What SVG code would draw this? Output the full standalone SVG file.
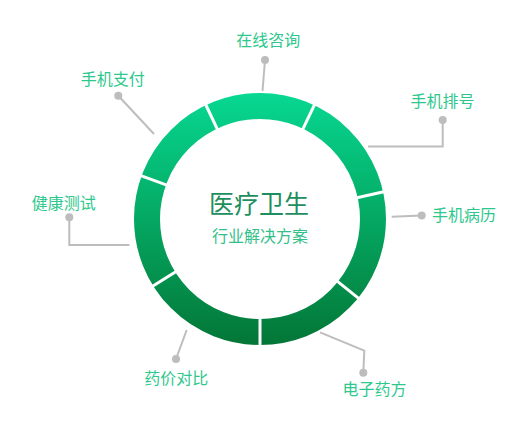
<svg xmlns="http://www.w3.org/2000/svg" width="520" height="440" viewBox="0 0 520 440">
  <defs>
    <linearGradient id="ringGrad" gradientUnits="userSpaceOnUse" x1="0" y1="93" x2="0" y2="345">
      <stop offset="0" stop-color="#07D892"/>
      <stop offset="0.5" stop-color="#04A862"/>
      <stop offset="1" stop-color="#037636"/>
    </linearGradient>
    <style>
      .lbl { font-family: "Noto Sans CJK SC", "Noto Sans", sans-serif; font-size: 16px; fill: #2EC88D; text-anchor: middle; }
      .conn { fill: none; stroke: #BDBDBD; stroke-width: 2; }
      .dot { fill: #BDBDBD; }
      .gap { stroke: #FFFFFF; stroke-width: 3; }
    </style>
  </defs>
  <rect width="520" height="440" fill="#FFFFFF"/>

  <g id="ring">
    <circle cx="260" cy="219" r="113" fill="none" stroke="url(#ringGrad)" stroke-width="26"/>
    <line class="gap" x1="335.6" y1="279.8" x2="360.5" y2="299.8"/>
    <line class="gap" x1="260" y1="316" x2="260" y2="348"/>
    <line class="gap" x1="177.7" y1="270.4" x2="150.6" y2="287.4"/>
    <line class="gap" x1="168.9" y1="185.8" x2="138.8" y2="174.9"/>
    <line class="gap" x1="218.4" y1="131.4" x2="204.7" y2="102.5"/>
    <line class="gap" x1="301.8" y1="131.4" x2="315.5" y2="102.6"/>
    <line class="gap" x1="354.7" y1="198.2" x2="386.0" y2="191.3"/>
  </g>

  <g id="center">
    <text x="259" y="213" font-family="Noto Sans CJK SC, sans-serif" font-size="25" fill="#1E8E5E" text-anchor="middle">医疗卫生</text>
    <text x="260" y="241.5" font-family="Noto Sans CJK SC, sans-serif" font-size="16" fill="#33C089" text-anchor="middle">行业解决方案</text>
  </g>

  <g id="connectors">
    <polyline class="conn" points="265,60 262.5,91"/>
    <polyline class="conn" points="118.3,95.7 154,134"/>
    <polyline class="conn" points="442.7,120 442.7,146.5 368,146.5"/>
    <polyline class="conn" points="421.7,215.5 391.7,216.7"/>
    <polyline class="conn" points="69.3,217.3 69.3,245 129.5,245"/>
    <polyline class="conn" points="176,359 186.7,330"/>
    <polyline class="conn" points="363.3,372.7 364.3,350.7 320,332.3"/>
  </g>

  <g id="node-zaixian">
    <circle class="dot" cx="265" cy="60" r="4"/>
    <text class="lbl" x="268.3" y="46">在线咨询</text>
  </g>
  <g id="node-zhifu">
    <circle class="dot" cx="118.3" cy="95.7" r="4"/>
    <text class="lbl" x="112.8" y="84.5">手机支付</text>
  </g>
  <g id="node-paihao">
    <circle class="dot" cx="442.7" cy="120" r="4"/>
    <text class="lbl" x="442.5" y="106.5">手机排号</text>
  </g>
  <g id="node-bingli">
    <circle class="dot" cx="421.7" cy="215.5" r="4"/>
    <text class="lbl" x="464" y="221">手机病历</text>
  </g>
  <g id="node-jiankang">
    <circle class="dot" cx="69.3" cy="217.3" r="4"/>
    <text class="lbl" x="63.8" y="208.5">健康测试</text>
  </g>
  <g id="node-yaojia">
    <circle class="dot" cx="176" cy="359" r="4"/>
    <text class="lbl" x="176.3" y="384">药价对比</text>
  </g>
  <g id="node-yaofang">
    <circle class="dot" cx="363.3" cy="372.7" r="4"/>
    <text class="lbl" x="374.5" y="395">电子药方</text>
  </g>
</svg>
